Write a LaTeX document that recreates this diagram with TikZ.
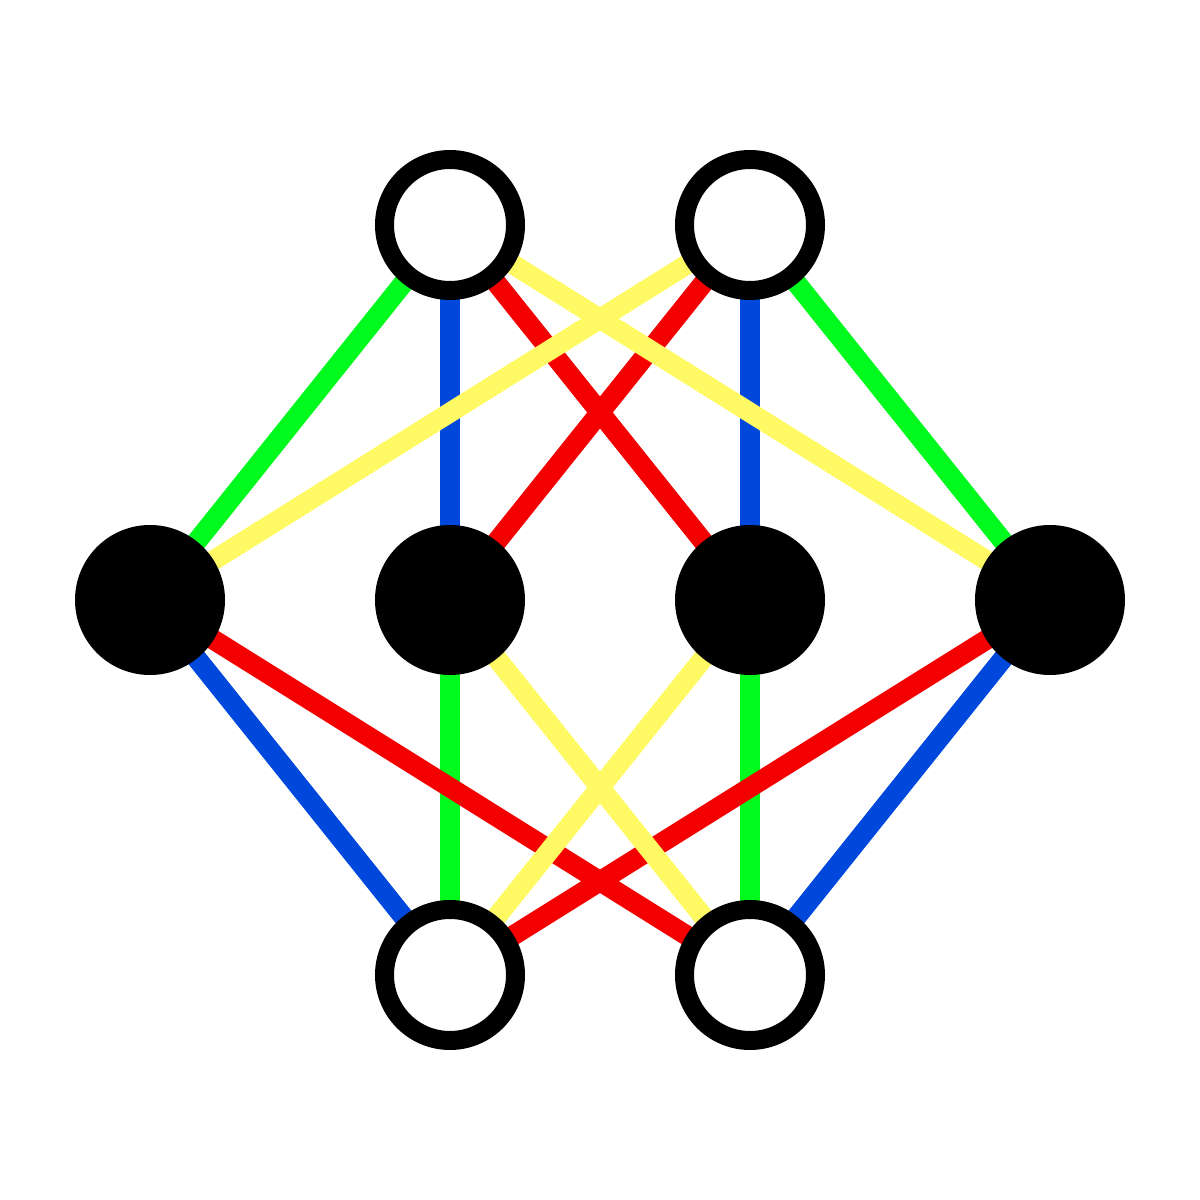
\documentclass[tikz,border=0pt]{standalone}
\usepackage{tikz}
\usepackage{xcolor}
\usetikzlibrary{backgrounds}
\definecolor{edgegreen}{RGB}{0,250,30}
\definecolor{edgeblue}{RGB}{0,72,220}
\definecolor{edgered}{RGB}{245,0,0}
\definecolor{edgeyellow}{RGB}{255,250,100}

\begin{document}
\begin{tikzpicture}
  [x=1cm,y=1cm,
   open/.style={circle,draw=black,fill=white,line width=0.19cm,minimum size=1.31cm,inner sep=0pt},
   full/.style={circle,fill=black,minimum size=1.5cm,inner sep=0pt},
   link/.style={line width=0.2cm}]
  \useasboundingbox (0,0) rectangle (12,12);
  \node[open] (t1) at (4.5,9.75) {};
  \node[open] (t2) at (7.5,9.75) {};
  \node[full] (m1) at (1.5,6) {};
  \node[full] (m2) at (4.5,6) {};
  \node[full] (m3) at (7.5,6) {};
  \node[full] (m4) at (10.5,6) {};
  \node[open] (b1) at (4.5,2.25) {};
  \node[open] (b2) at (7.5,2.25) {};
\begin{scope}[on background layer]
\foreach \from/\to in {t1/m2,t2/m3,b1/m1,b2/m4}
    \draw[link,edgeblue] (\from.center) -- (\to.center);
\foreach \from/\to in {t1/m1,t2/m4,b1/m2,b2/m3}
    \draw[link,edgegreen] (\from.center) -- (\to.center);
\foreach \from/\to in {t1/m3,t2/m2,b1/m4,b2/m1}
    \draw[link,edgered] (\from.center) -- (\to.center);
\foreach \from/\to in {t1/m4,t2/m1,b1/m3,b2/m2}
    \draw[link,edgeyellow] (\from.center) -- (\to.center);
\end{scope}

\end{tikzpicture}
\end{document}
